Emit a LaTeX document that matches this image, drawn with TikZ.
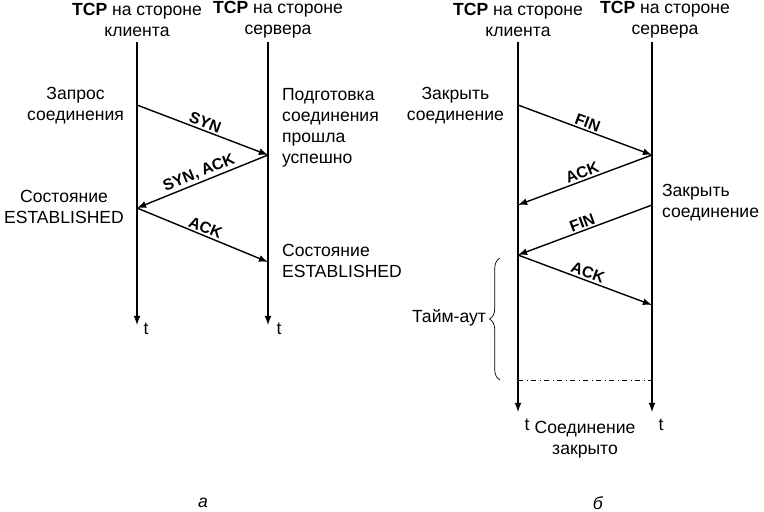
\documentclass[tikz,border=0pt]{standalone}
\usepackage{fontspec}
\setmainfont{Liberation Sans}
\usetikzlibrary{decorations.pathreplacing}
\tikzset{
  tline/.style={thick,-latex},
  msg/.style={thick,-latex},
  lbl/.style={font=\small\bfseries,sloped,above,inner sep=1pt},
  txt/.style={font=\normalsize,align=center,inner sep=1pt}
}
\begin{document}
\begin{tikzpicture}[x=0.02cm,y=-0.02cm]
\useasboundingbox (0,0) rectangle (764,511);
% headers
\node[txt] (hca) at (137,20) {\textbf{TCP} на стороне\\клиента} ;
\node[txt] (hsa) at (278,20) {\textbf{TCP} на стороне\\сервера} ;
\node[txt] (hcb) at (518,20) {\textbf{TCP} на стороне\\клиента} ;
\node[txt] (hsb) at (665,20) {\textbf{TCP} на стороне\\сервера} ;
% time lines
\coordinate (ca0) at (137,42) ; \coordinate (ca1) at (137,325) ;
\coordinate (sa0) at (268,42) ; \coordinate (sa1) at (268,325) ;
\coordinate (cb0) at (518,42) ; \coordinate (cb1) at (518,412) ;
\coordinate (sb0) at (652,42) ; \coordinate (sb1) at (652,412) ;
\draw[tline] (ca0) -- (ca1) ;
\draw[tline] (sa0) -- (sa1) ;
\draw[tline] (cb0) -- (cb1) ;
\draw[tline] (sb0) -- (sb1) ;
\node[txt] (ta1) at (146,329) {t} ;
\node[txt] (ta2) at (279,329) {t} ;
\node[txt] (tb1) at (527,425) {t} ;
\node[txt] (tb2) at (661,425) {t} ;
% a
\coordinate (a1) at (137,105) ; \coordinate (a2) at (268,155) ;
\coordinate (a3) at (137,208) ; \coordinate (a4) at (268,262) ;
\draw[msg] (a1) -- node[lbl] {SYN} (a2) ;
\draw[msg] (a2) -- node[lbl] {SYN, ACK} (a3) ;
\draw[msg] (a3) -- node[lbl] {ACK} (a4) ;
\node[txt,anchor=east] (qa) at (126,106) {Запрос\\соединения} ;
\node[txt,anchor=west,align=left] (pa) at (280,128) {Подготовка\\соединения\\прошла\\успешно} ;
\node[txt,anchor=east] (esa) at (126,207) {Состояние\\ESTABLISHED} ;
\node[txt,anchor=west,align=left] (esb) at (280,261) {Состояние\\ESTABLISHED} ;
% b
\coordinate (b1) at (518,105) ; \coordinate (b2) at (652,155) ;
\coordinate (b3) at (518,205) ; \coordinate (b4) at (652,205) ;
\coordinate (b5) at (518,255) ; \coordinate (b6) at (652,305) ;
\draw[msg] (b1) -- node[lbl] {FIN} (b2) ;
\draw[msg] (b2) -- node[lbl] {ACK} (b3) ;
\draw[msg] (b4) -- node[lbl] {FIN} (b5) ;
\draw[msg] (b5) -- node[lbl] {ACK} (b6) ;
\node[txt,anchor=east] (zc) at (506,106) {Закрыть\\соединение} ;
\node[txt,anchor=west,align=left] (zs) at (660,203) {Закрыть\\соединение} ;
\coordinate (br0) at (500,380) ; \coordinate (br1) at (500,258) ;
\draw[decorate,decoration={brace,amplitude=6pt}] (br0) -- (br1) ;
\node[txt,anchor=east] (to) at (488,318) {Тайм-аут} ;
\coordinate (d0) at (518,380) ; \coordinate (d1) at (652,380) ;
\draw[dash dot] (d0) -- (d1) ;
\node[txt] (cl) at (585,440) {Соединение\\закрыто} ;
% captions
\node[txt] (capa) at (203,503) {\textit{а}} ;
\node[txt] (capb) at (598,503) {\textit{б}} ;
\end{tikzpicture}
\end{document}
